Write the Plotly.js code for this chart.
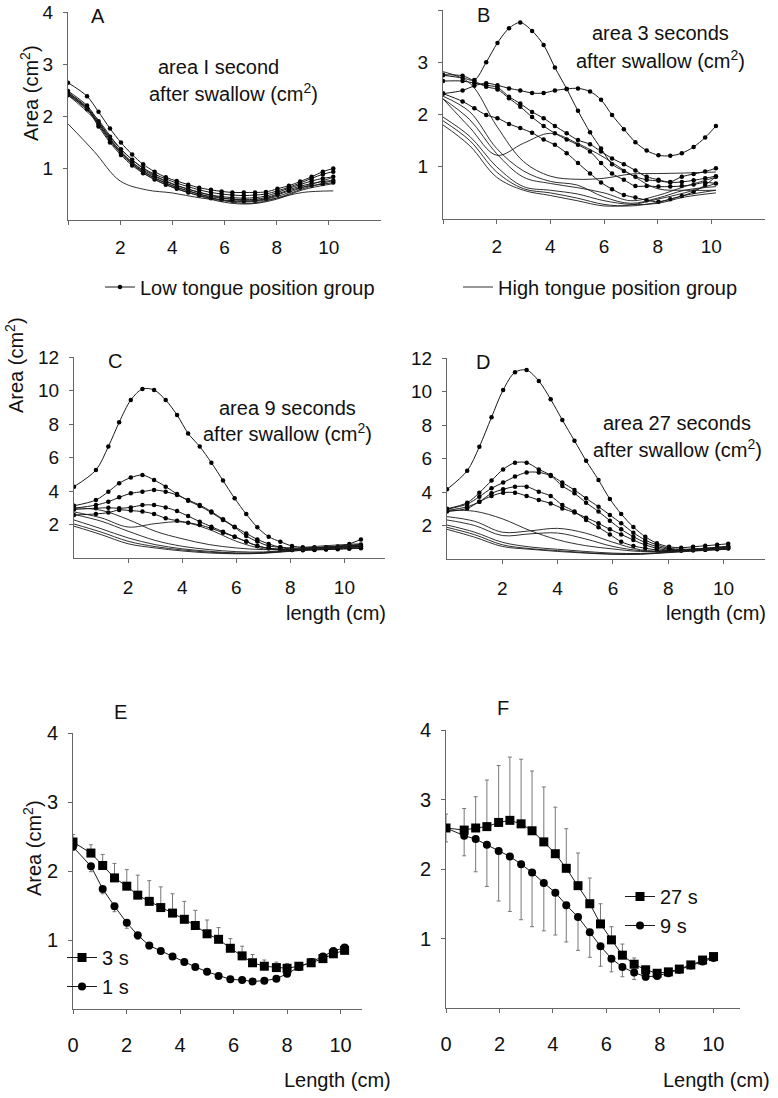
<!DOCTYPE html>
<html><head><meta charset="utf-8">
<script src="https://cdn.plot.ly/plotly-3.0.1.min.js"></script>
<style>html,body{margin:0;padding:0;background:#fff}</style>
</head><body>
<div id="chart" style="width:778px;height:1098px"></div>
<script>
// ---------- x positions ----------
const xLow  = [0, 0.73, 1.17, 1.61, 2.03, 2.46, 2.88, 3.32, 3.75, 4.17, 4.61, 5.03, 5.48, 5.89, 6.3, 6.74, 7.17, 7.59, 8.03, 8.47, 8.9, 9.34, 9.77, 10.17];
const xLowC = [0, 0.81, 1.27, 1.67, 2.1, 2.53, 2.96, 3.39, 3.81, 4.22, 4.65, 5.08, 5.51, 5.94, 6.37, 6.78, 7.2, 7.63, 8.06, 8.46, 8.89, 9.32, 9.75, 10.18, 10.61];
const xHigh = [0, 1, 2, 3, 4, 5, 6, 7, 8, 9, 10.17];
const xHighC = [0, 1, 2, 3, 4, 5, 6, 7, 8, 9, 10.61];

// ---------- Panel A (1 s) ----------
const A_low1 = [2.64, 2.38, 2.08, 1.76, 1.49, 1.26, 1.07, 0.93, 0.82, 0.75, 0.68, 0.62, 0.58, 0.55, 0.53, 0.53, 0.53, 0.54, 0.60, 0.66, 0.74, 0.83, 0.93, 0.99];
const A_low2 = [2.48, 2.2, 1.9, 1.6, 1.36, 1.16, 1.0, 0.88, 0.79, 0.71, 0.64, 0.58, 0.53, 0.5, 0.48, 0.47, 0.48, 0.5, 0.56, 0.63, 0.71, 0.8, 0.88, 0.93];
const A_low3 = [2.45, 2.17, 1.86, 1.55, 1.31, 1.11, 0.96, 0.84, 0.74, 0.66, 0.59, 0.53, 0.48, 0.45, 0.43, 0.42, 0.43, 0.46, 0.53, 0.61, 0.68, 0.75, 0.8, 0.83];
const A_low4 = [2.43, 2.15, 1.83, 1.52, 1.28, 1.08, 0.93, 0.81, 0.71, 0.63, 0.56, 0.5, 0.45, 0.42, 0.4, 0.39, 0.4, 0.43, 0.5, 0.58, 0.65, 0.7, 0.74, 0.76];
const A_low5 = [2.4, 2.13, 1.8, 1.49, 1.25, 1.05, 0.9, 0.78, 0.68, 0.6, 0.53, 0.47, 0.42, 0.39, 0.37, 0.36, 0.37, 0.41, 0.48, 0.56, 0.62, 0.66, 0.69, 0.72];
const A_high1 = [1.85, 1.32, 0.75, 0.58, 0.52, 0.43, 0.37, 0.35, 0.42, 0.53, 0.56];
const A_high2 = [2.46, 2.02, 1.38, 0.95, 0.7, 0.54, 0.42, 0.37, 0.45, 0.63, 0.82];
const A_high3 = [2.43, 1.98, 1.33, 0.9, 0.66, 0.5, 0.37, 0.32, 0.42, 0.6, 0.76];
const A_high4 = [2.4, 1.95, 1.3, 0.87, 0.63, 0.47, 0.34, 0.31, 0.4, 0.58, 0.7];

// ---------- Panel B (3 s) ----------
const B_low1 = [2.75, 2.7, 2.66, 3.0, 3.37, 3.65, 3.76, 3.6, 3.33, 2.9, 2.49, 2.07, 1.66, 1.35, 1.05, 0.92, 0.81, 0.75, 0.73, 0.71, 0.81, 0.86, 0.91, 0.97];
const B_low2 = [2.4, 2.46, 2.55, 2.6, 2.56, 2.5, 2.46, 2.41, 2.41, 2.46, 2.49, 2.5, 2.44, 2.28, 1.99, 1.72, 1.47, 1.31, 1.22, 1.21, 1.26, 1.38, 1.56, 1.78];
const B_low3 = [2.64, 2.64, 2.6, 2.56, 2.52, 2.34, 2.21, 2.05, 1.93, 1.78, 1.64, 1.51, 1.43, 1.29, 1.16, 1.05, 0.93, 0.81, 0.75, 0.7, 0.71, 0.74, 0.78, 0.82];
const B_low4 = [2.76, 2.74, 2.64, 2.53, 2.48, 2.31, 2.15, 1.95, 1.78, 1.64, 1.52, 1.42, 1.29, 1.07, 0.87, 0.75, 0.63, 0.63, 0.62, 0.62, 0.63, 0.66, 0.7, 0.68];
const B_low5 = [2.4, 2.25, 2.12, 1.99, 1.93, 1.82, 1.74, 1.65, 1.52, 1.42, 1.26, 1.07, 0.87, 0.7, 0.57, 0.46, 0.41, 0.36, 0.33, 0.38, 0.44, 0.52, 0.65, 0.81];
const B_high1 = [2.3, 1.75, 1.22, 1.45, 1.64, 1.45, 1.18, 0.85, 0.58, 0.55, 0.55];
const B_high2 = [2.82, 2.6, 1.78, 1.1, 0.82, 0.76, 0.78, 0.86, 0.87, 0.88, 0.9];
const B_high3 = [2.35, 2.05, 1.35, 0.92, 0.72, 0.65, 0.42, 0.3, 0.4, 0.55, 0.62];
const B_high4 = [1.95, 1.58, 1.0, 0.62, 0.55, 0.48, 0.35, 0.28, 0.3, 0.42, 0.5];
const B_high5 = [1.88, 1.5, 0.9, 0.58, 0.5, 0.4, 0.28, 0.25, 0.32, 0.45, 0.55];
const B_high6 = [1.8, 1.4, 0.8, 0.55, 0.45, 0.35, 0.25, 0.27, 0.38, 0.5, 0.68];
const B_high7 = [2.3, 1.9, 1.25, 0.8, 0.68, 0.6, 0.5, 0.35, 0.45, 0.62, 0.8];

// ---------- Panel C (9 s) ----------
const C_low1 = [4.26, 5.25, 6.65, 8.1, 9.43, 10.09, 10.03, 9.43, 8.54, 7.44, 6.65, 5.69, 4.62, 3.56, 2.62, 1.83, 1.27, 0.97, 0.72, 0.64, 0.64, 0.64, 0.68, 0.84, 1.11];
const C_low2 = [3.12, 3.46, 3.96, 4.46, 4.8, 4.95, 4.66, 4.26, 3.82, 3.42, 3.1, 2.71, 2.27, 1.83, 1.31, 0.98, 0.72, 0.64, 0.6, 0.58, 0.6, 0.62, 0.66, 0.72, 0.8];
const C_low3 = [2.97, 3.16, 3.36, 3.62, 3.86, 3.96, 4.06, 3.96, 3.76, 3.46, 3.16, 2.77, 2.31, 1.87, 1.47, 1.11, 0.84, 0.64, 0.52, 0.5, 0.52, 0.55, 0.6, 0.66, 0.7];
const C_low4 = [2.9, 2.97, 3.0, 2.97, 3.02, 3.16, 3.16, 3.02, 2.8, 2.5, 2.17, 1.87, 1.57, 1.27, 0.98, 0.72, 0.58, 0.52, 0.48, 0.48, 0.5, 0.52, 0.55, 0.58, 0.62];
const C_low5 = [2.57, 2.63, 2.71, 2.87, 2.83, 2.77, 2.63, 2.37, 2.23, 2.11, 1.97, 1.77, 1.51, 1.27, 0.98, 0.72, 0.58, 0.52, 0.48, 0.46, 0.48, 0.5, 0.52, 0.55, 0.58];
const C_high1 = [3.0, 2.85, 2.3, 1.6, 1.15, 0.8, 0.6, 0.5, 0.55, 0.7, 0.85];
const C_high2 = [2.75, 2.4, 1.85, 2.05, 2.15, 1.7, 1.0, 0.55, 0.5, 0.62, 0.8];
const C_high3 = [2.27, 1.75, 1.2, 0.8, 0.55, 0.4, 0.3, 0.32, 0.45, 0.6, 0.78];
const C_high4 = [2.03, 1.55, 1.0, 0.68, 0.48, 0.35, 0.28, 0.3, 0.42, 0.55, 0.7];
const C_high5 = [1.9, 1.4, 0.85, 0.6, 0.42, 0.3, 0.25, 0.28, 0.4, 0.52, 0.65];
const C_high6 = [2.6, 2.2, 1.6, 1.05, 0.7, 0.5, 0.38, 0.36, 0.48, 0.62, 0.75];

// ---------- Panel D (27 s) ----------
const D_low1 = [4.16, 5.27, 6.7, 8.46, 10.09, 11.15, 11.28, 10.63, 9.53, 8.3, 7.06, 5.87, 4.72, 3.58, 2.69, 1.91, 1.33, 0.94, 0.73, 0.67, 0.73, 0.79, 0.85, 0.91];
const D_low2 = [3.0, 3.36, 3.96, 4.68, 5.35, 5.75, 5.75, 5.35, 5.01, 4.56, 4.12, 3.62, 3.12, 2.63, 2.13, 1.57, 1.13, 0.84, 0.64, 0.58, 0.6, 0.64, 0.7, 0.76];
const D_low3 = [2.97, 3.28, 3.72, 4.22, 4.56, 4.92, 5.17, 5.17, 4.96, 4.36, 3.92, 3.36, 2.83, 2.29, 1.77, 1.33, 0.98, 0.74, 0.58, 0.55, 0.57, 0.6, 0.65, 0.72];
const D_low4 = [2.89, 3.12, 3.42, 3.92, 4.16, 4.32, 4.32, 4.02, 3.76, 3.22, 2.83, 2.33, 1.89, 1.47, 1.03, 0.78, 0.64, 0.54, 0.5, 0.5, 0.52, 0.55, 0.6, 0.65];
const D_low5 = [2.83, 3.02, 3.42, 3.76, 3.96, 3.96, 3.76, 3.52, 3.32, 3.02, 2.77, 2.47, 2.13, 1.77, 1.47, 1.13, 0.84, 0.64, 0.52, 0.5, 0.52, 0.55, 0.58, 0.62];
const D_high1 = [2.9, 2.85, 2.4, 1.7, 1.15, 0.8, 0.6, 0.45, 0.5, 0.6, 0.75];
const D_high2 = [2.53, 2.25, 1.6, 1.68, 1.83, 1.55, 1.0, 0.55, 0.45, 0.55, 0.7];
const D_high3 = [2.33, 2.0, 1.4, 1.5, 1.55, 1.2, 0.75, 0.5, 0.45, 0.55, 0.68];
const D_high4 = [2.03, 1.6, 1.0, 0.72, 0.58, 0.45, 0.35, 0.33, 0.42, 0.52, 0.62];
const D_high5 = [1.89, 1.45, 0.85, 0.62, 0.5, 0.38, 0.3, 0.3, 0.4, 0.5, 0.6];
const D_high6 = [1.77, 1.3, 0.75, 0.58, 0.45, 0.35, 0.28, 0.28, 0.38, 0.48, 0.58];

// ---------- Panel E (means, 3 s vs 1 s) ----------
const xE = [0, 0.67, 1.11, 1.55, 2.01, 2.42, 2.85, 3.28, 3.72, 4.16, 4.57, 5.01, 5.44, 5.88, 6.32, 6.71, 7.15, 7.6, 8.0, 8.44, 8.9, 9.34, 9.73, 10.15];
const E_3s = [2.42, 2.26, 2.08, 1.9, 1.78, 1.65, 1.56, 1.47, 1.39, 1.3, 1.21, 1.09, 1.01, 0.88, 0.77, 0.67, 0.62, 0.6, 0.59, 0.62, 0.67, 0.73, 0.8, 0.85];
const E_3s_err = [0.11, 0.12, 0.16, 0.21, 0.24, 0.29, 0.3, 0.3, 0.28, 0.26, 0.22, 0.2, 0.17, 0.14, 0.14, 0.12, 0.09, 0.08, 0.07, 0.05, 0.04, 0.04, 0.04, 0.04];
const E_1s = [2.35, 2.07, 1.74, 1.49, 1.25, 1.07, 0.92, 0.84, 0.76, 0.68, 0.61, 0.54, 0.48, 0.43, 0.42, 0.4, 0.41, 0.44, 0.51, 0.61, 0.68, 0.76, 0.84, 0.89];
const E_1s_err = [0.04, 0.08, 0.07, 0.08, 0.08, 0.06, 0.05, 0.04, 0.04, 0.03, 0.03, 0.03, 0.03, 0.03, 0.03, 0.03, 0.03, 0.03, 0.03, 0.03, 0.03, 0.03, 0.03, 0.03];

// ---------- Panel F (means, 27 s vs 9 s) ----------
const xF = [0, 0.68, 1.11, 1.53, 1.97, 2.39, 2.81, 3.22, 3.66, 4.09, 4.5, 4.94, 5.38, 5.78, 6.19, 6.6, 7.04, 7.47, 7.9, 8.32, 8.73, 9.16, 9.6, 10.01];
const F_27s = [2.59, 2.56, 2.59, 2.61, 2.67, 2.7, 2.65, 2.55, 2.39, 2.22, 2.01, 1.76, 1.5, 1.21, 0.98, 0.76, 0.63, 0.55, 0.5, 0.52, 0.56, 0.62, 0.69, 0.74];
const F_27s_err = [0.2, 0.31, 0.45, 0.67, 0.82, 0.91, 0.93, 0.86, 0.79, 0.67, 0.57, 0.47, 0.37, 0.29, 0.19, 0.16, 0.09, 0.05, 0.04, 0.04, 0.04, 0.04, 0.04, 0.04];
const F_9s = [2.59, 2.48, 2.43, 2.35, 2.26, 2.18, 2.07, 1.95, 1.8, 1.66, 1.48, 1.31, 1.09, 0.89, 0.71, 0.59, 0.51, 0.45, 0.46, 0.5, 0.55, 0.61, 0.67, 0.72];
const F_9s_err = [0.2, 0.29, 0.47, 0.6, 0.72, 0.79, 0.8, 0.78, 0.69, 0.61, 0.53, 0.48, 0.36, 0.29, 0.19, 0.14, 0.1, 0.05, 0.04, 0.03, 0.03, 0.03, 0.03, 0.03];

// ---------- tick labels / texts ----------
const ticksAB = [0, 2, 4, 6, 8, 10];
const tickTextAB = ['', '2', '4', '6', '8', '10'];
const ticksCD = [2, 4, 6, 8, 10];
const ticksEF = [0, 2, 4, 6, 8, 10];
const yTicks4 = [1, 2, 3, 4];
const yTicks12 = [2, 4, 6, 8, 10, 12];
const legendNames = ['Low tongue position group', 'High tongue position group'];

// ---------- build ----------
const W = 778, H = 1098;
const FONT = 'Liberation Sans, Arial, sans-serif';
const px = v => v / W;
const py = v => 1 - v / H;
const traces = [];
let lowShown = false, highShown = false;

function addLow(x, y, n) {
  traces.push({type: 'scatter', mode: 'lines+markers', x: x, y: y, xaxis: 'x' + n, yaxis: 'y' + n,
    line: {color: '#1a1a1a', width: 1, shape: 'spline', smoothing: 0.9},
    marker: {color: '#000', size: 4.5},
    name: legendNames[0], legend: 'legend', showlegend: !lowShown, hoverinfo: 'skip'});
  lowShown = true;
}
function addHigh(x, y, n) {
  traces.push({type: 'scatter', mode: 'lines', x: x, y: y, xaxis: 'x' + n, yaxis: 'y' + n,
    line: {color: '#1a1a1a', width: 0.9, shape: 'spline', smoothing: 1},
    name: legendNames[1], legend: 'legend4', showlegend: !highShown, hoverinfo: 'skip'});
  highShown = true;
}
[A_low1, A_low2, A_low3, A_low4, A_low5].forEach(y => addLow(xLow, y, ''));
[A_high1, A_high2, A_high3, A_high4].forEach(y => addHigh(xHigh, y, ''));
[B_low1, B_low2, B_low3, B_low4, B_low5].forEach(y => addLow(xLow, y, '2'));
[B_high1, B_high2, B_high3, B_high4, B_high5, B_high6, B_high7].forEach(y => addHigh(xHigh, y, '2'));
[C_low1, C_low2, C_low3, C_low4, C_low5].forEach(y => addLow(xLowC, y, '3'));
[C_high1, C_high2, C_high3, C_high4, C_high5, C_high6].forEach(y => addHigh(xHighC, y, '3'));
[D_low1, D_low2, D_low3, D_low4, D_low5].forEach(y => addLow(xLow, y, '4'));
[D_high1, D_high2, D_high3, D_high4, D_high5, D_high6].forEach(y => addHigh(xHigh, y, '4'));

function meanTrace(x, y, up, down, n, sym, size, name, leg) {
  return {type: 'scatter', mode: 'lines+markers', x: x, y: y, xaxis: 'x' + n, yaxis: 'y' + n,
    line: {color: '#1a1a1a', width: 1},
    marker: {color: '#000', size: size, symbol: sym},
    error_y: {type: 'data', symmetric: false, array: up, arrayminus: down, color: '#777', thickness: 1, width: 2},
    name: name, legend: leg, showlegend: true, hoverinfo: 'skip'};
}
traces.push(meanTrace(xE, E_3s, E_3s_err, E_3s_err.map(() => 0), '5', 'square', 9, '3 s', 'legend2'));
traces.push(meanTrace(xE, E_1s, E_1s_err.map(() => 0), E_1s_err, '5', 'circle', 8, '1 s', 'legend2'));
traces.push(meanTrace(xF, F_27s, F_27s_err, F_27s_err.map(() => 0), '6', 'square', 9, '27 s', 'legend3'));
traces.push(meanTrace(xF, F_9s, F_9s_err.map(() => 0), F_9s_err, '6', 'circle', 8, '9 s', 'legend3'));

function xax(l, r, range, tv, tt, anchor, stand, fs) {
  return {domain: [px(l), px(r)], range: range, anchor: anchor, showgrid: false, zeroline: false,
    showline: true, linecolor: '#666', linewidth: 1, ticks: 'outside', ticklen: 4, tickcolor: '#666',
    tickvals: tv, ticktext: tt, tickfont: {size: fs, color: '#111'}, ticklabelstandoff: stand, fixedrange: true};
}
function yax(top, bottom, range, tv, anchor, fs) {
  return {domain: [py(bottom), py(top)], range: range, anchor: anchor, showgrid: false, zeroline: false,
    showline: true, linecolor: '#666', linewidth: 1, ticks: 'outside', ticklen: 4, tickcolor: '#666',
    tickvals: tv, tickfont: {size: fs, color: '#111'}, ticklabelstandoff: 6, fixedrange: true};
}

function ann(text, x, y, opts) {
  return Object.assign({text: text, x: px(x), y: py(y), xref: 'paper', yref: 'paper', showarrow: false,
    font: {size: 20, color: '#111', family: FONT}, xanchor: 'center', yanchor: 'middle'}, opts || {});
}
const sup = 'after swallow (cm<sup>2</sup>)';
const areaTitle = 'Area (cm<sup>2</sup>)';
const annotations = [
  ann('A', 98, 16), ann('B', 483, 15), ann('C', 115, 361), ann('D', 483, 362), ann('E', 120, 712), ann('F', 503, 708),
  ann('area I second', 218, 67), ann(sup, 233, 92),
  ann('area 3 seconds', 660, 33), ann(sup, 660, 60),
  ann('area 9 seconds', 287, 408), ann(sup, 287, 433),
  ann('area 27 seconds', 677, 423), ann(sup, 677, 448),
  ann(areaTitle, 30, 93, {textangle: -90}),
  ann(areaTitle, 15, 365, {textangle: -90}),
  ann(areaTitle, 32, 848, {textangle: -90}),
  ann('length (cm)', 388, 613, {xanchor: 'right'}),
  ann('length (cm)', 768, 613, {xanchor: 'right'}),
  ann('Length (cm)', 393, 1080, {xanchor: 'right'}),
  ann('Length (cm)', 772, 1080, {xanchor: 'right'})
];

const legBase = {xanchor: 'left', yanchor: 'middle', font: {size: 20, color: '#111'},
                 bgcolor: 'rgba(0,0,0,0)', tracegroupgap: 0, itemwidth: 30};
const layout = {
  width: W, height: H, margin: {l: 0, r: 0, t: 0, b: 0}, paper_bgcolor: '#fff', plot_bgcolor: 'rgba(0,0,0,0)',
  font: {family: FONT, color: '#111', size: 19},
  xaxis:  xax(68, 381, [0, 12], ticksAB, tickTextAB, 'y', 6, 19),
  yaxis:  yax(12, 220, [0, 4], yTicks4, 'x', 19),
  xaxis2: xax(443, 765, [0, 12], ticksAB, tickTextAB, 'y2', 6, 19),
  yaxis2: yax(10, 219, [0, 4], yTicks4, 'x2', 19),
  xaxis3: xax(74, 385, [0, 11.5], ticksCD, ticksCD.map(String), 'y3', 8, 19),
  yaxis3: yax(357, 558, [0, 12], yTicks12, 'x3', 19),
  xaxis4: xax(447, 765, [0, 11.5], ticksCD, ticksCD.map(String), 'y4', 8, 19),
  yaxis4: yax(358, 559, [0, 12], yTicks12, 'x4', 19),
  xaxis5: xax(73, 362, [0, 10.8], ticksEF, ticksEF.map(String), 'y5', 14, 20),
  yaxis5: yax(733, 1009, [0, 4], yTicks4, 'x5', 20),
  xaxis6: xax(446, 740, [0, 11], ticksEF, ticksEF.map(String), 'y6', 14, 20),
  yaxis6: yax(730, 1008, [0, 4], yTicks4, 'x6', 20),
  legend:  Object.assign({}, legBase, {x: px(100), y: py(287)}),
  legend4: Object.assign({}, legBase, {x: px(458), y: py(287)}),
  legend2: Object.assign({}, legBase, {x: px(62), y: py(972)}),
  legend3: Object.assign({}, legBase, {x: px(620), y: py(911)}),
  annotations: annotations,
  showlegend: true
};

Plotly.newPlot('chart', traces, layout, {displayModeBar: false, staticPlot: true});
</script>
</body></html>
